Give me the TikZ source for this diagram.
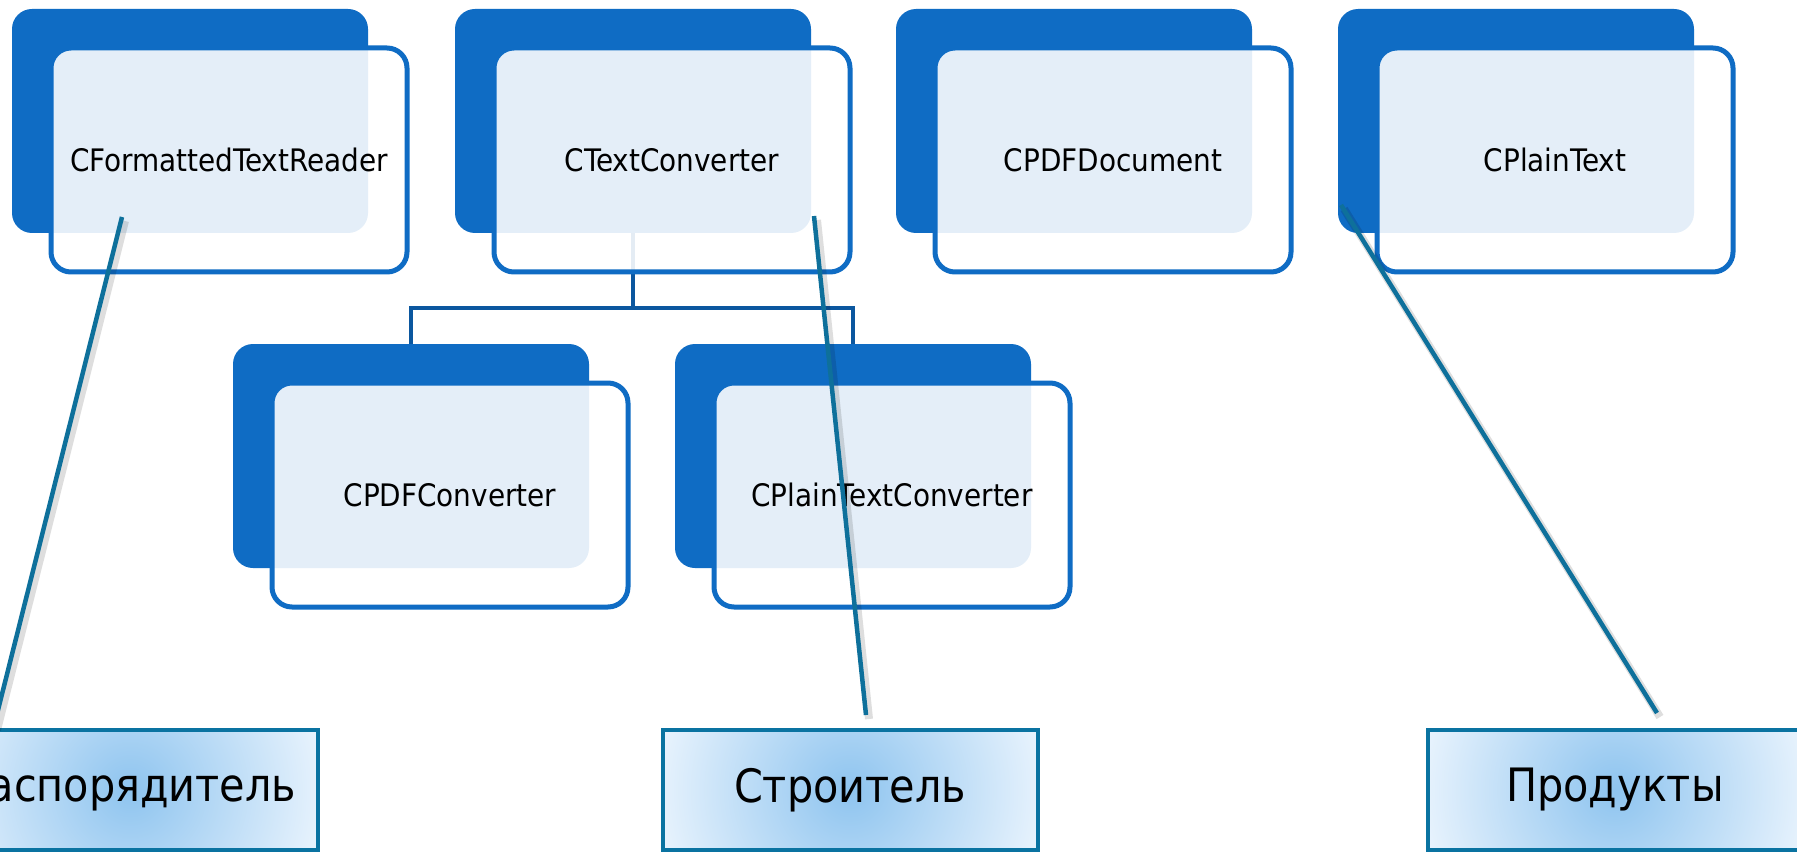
\documentclass[tikz,border=0pt]{standalone}
\usepackage{fontspec}
\setmainfont{DejaVu Sans Condensed}
\usetikzlibrary{positioning}
\definecolor{boxblue}{HTML}{0F6CC4}
\definecolor{treeblue}{HTML}{0B579F}
\definecolor{calloutline}{HTML}{0E709B}
\definecolor{calloutedge}{HTML}{0A73A1}
\definecolor{calloutin}{HTML}{8EC4EF}
\definecolor{calloutout}{HTML}{E8F3FD}
\tikzset{x=1pt, y=-1pt,
back/.style={ % dark card behind each class
rectangle, rounded corners=20pt,
fill=boxblue,
minimum width=356pt, minimum height=224pt},
front/.style={ % light card with the class name
rectangle, rounded corners=20pt,
draw=boxblue, line width=5pt,
fill=white, fill opacity=0.89, text opacity=1,
minimum width=356pt, minimum height=224pt,
font=\fontsize{31}{37}\selectfont},
tree/.style={ % inheritance lines
draw=treeblue, line width=4.5pt},
role/.style={ % pattern role labels
rectangle, draw=calloutedge, line width=4pt,
fill=calloutout,
path picture={\fill[inner color=calloutin, outer color=calloutout]
(path picture bounding box.center) circle (195pt);},
minimum width=375pt, minimum height=120pt,
font=\fontsize{46}{55}\selectfont},
pointer/.style={ % lines from roles to classes
draw=calloutline, line width=4.5pt,
preaction={draw=black, opacity=0.13, line width=8pt,
transform canvas={shift={(3pt,-4pt)}}}}}

\begin{document}
\begin{tikzpicture}
\useasboundingbox (0,0) rectangle (1797,853);
\clip (0,0) rectangle (1797,853);
\fill[white] (0,0) rectangle (1797,853);

% back cards
\node[back] (readerB) at (190,121) {};
\node[back] (convB) at (633,121) {};
\node[back] (docB) at (1074,121) {};
\node[back] (plainB) at (1516,121) {};
\node[back] (pdfconvB) at (411,456) {};
\node[back] (plainconvB) at (853,456) {};

% hierarchy under CTextConverter
\draw[tree] (convB.south) -- ++(0,75) -| (pdfconvB.north);
\draw[tree] (convB.south) -- ++(0,75) -| (plainconvB.north);

% front cards
\node[front] (reader) at ([shift={(39,39)}]readerB) {CFormattedTextReader};
\node[front] (conv) at ([shift={(39,39)}]convB) {CTextConverter};
\node[front] (doc) at ([shift={(39,39)}]docB) {CPDFDocument};
\node[front] (plain) at ([shift={(39,39)}]plainB) {CPlainText};
\node[front] (pdfconv) at ([shift={(39,39)}]pdfconvB) {CPDFConverter};
\node[front] (plainconv) at ([shift={(39,39)}]plainconvB) {CPlainTextConverter};

% roles
\node[role] (director) at (130,790) {Распорядитель};
\node[role] (builder) at (850,790) {Строитель};
\node[role] (product) at (1615,790) {Продукты};

\coordinate (readerP) at (122,217);
\coordinate (convP) at (814,216);
\coordinate (plainP) at (1341,205);
\coordinate (directorP) at (-6,726);
\coordinate (builderP) at (866,715);
\coordinate (productP) at (1657,713);

\draw[pointer] (directorP) -- (readerP);
\draw[pointer] (builderP) -- (convP);
\draw[pointer] (productP) -- (plainP);
\end{tikzpicture}
\end{document}
